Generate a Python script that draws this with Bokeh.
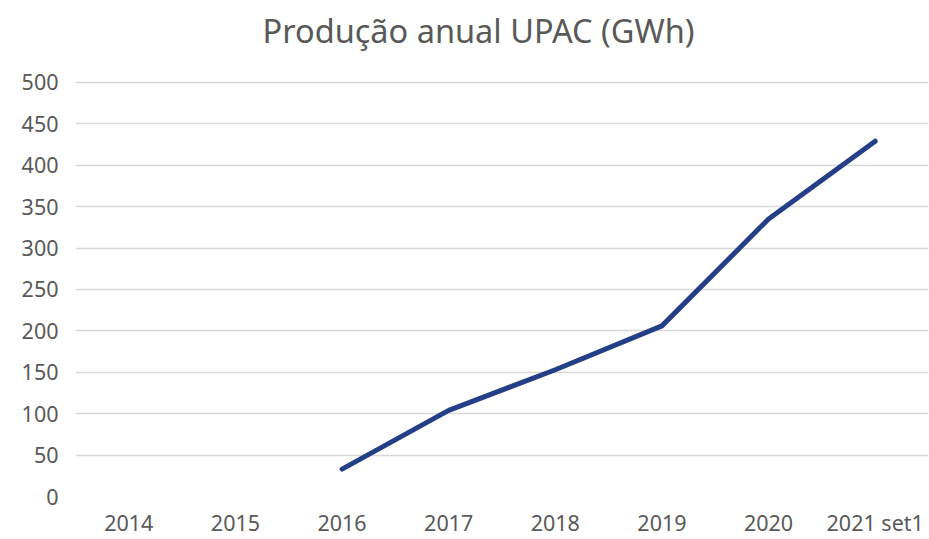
from bokeh.plotting import figure
from bokeh.models import Range1d, FixedTicker, ColumnDataSource, Label
from bokeh.embed import file_html
from bokeh.resources import INLINE
import math

# Data
anos = ["2014", "2015", "2016", "2017", "2018", "2019", "2020", "2021 set1"]
producao_gwh = [math.nan, math.nan, 33, 104, 153, 206, 335, 429]
y_ticks = [0, 50, 100, 150, 200, 250, 300, 350, 400, 450, 500]
titulo = "Produção anual UPAC (GWh)"

FONT = "Noto Sans"
GREY = "#595959"

# layout: plot frame runs to the top of the canvas; the value axis stops at 500
# and the space above it holds the title
Y_TOP = 598.8

src = ColumnDataSource(dict(x=anos, y=producao_gwh))

p = figure(x_range=anos, y_range=Range1d(0, Y_TOP), width=929, height=539,
           output_backend="svg", toolbar_location=None,
           min_border_left=75, min_border_right=1, min_border_bottom=0,
           min_border_top=0)

p.add_layout(Label(x=3.78, y=Y_TOP - 30 / 0.83, text=titulo,
                   text_font=FONT, text_font_size="32.5px",
                   text_color=GREY, text_align="center",
                   text_baseline="middle"))

p.line("x", "y", source=src, line_color="#243F87", line_width=5,
       line_cap="round", line_join="round")

p.outline_line_color = None
p.xgrid.grid_line_color = None
p.ygrid.grid_line_color = "#D9D9D9"
p.ygrid.grid_line_width = 1.3
p.yaxis.ticker = FixedTicker(ticks=y_ticks)

for ax in (p.xaxis, p.yaxis):
    ax.axis_line_color = None
    ax.major_tick_line_color = None
    ax.minor_tick_line_color = None
    ax.major_tick_out = 0
    ax.major_tick_in = 0
    ax.minor_tick_out = 0
    ax.major_label_text_font = FONT
    ax.major_label_text_font_size = "21.5px"
    ax.major_label_text_color = GREY

p.yaxis.major_label_standoff = 17
p.xaxis.major_label_standoff = 11

open("out.html", "w").write(file_html(p, INLINE))
